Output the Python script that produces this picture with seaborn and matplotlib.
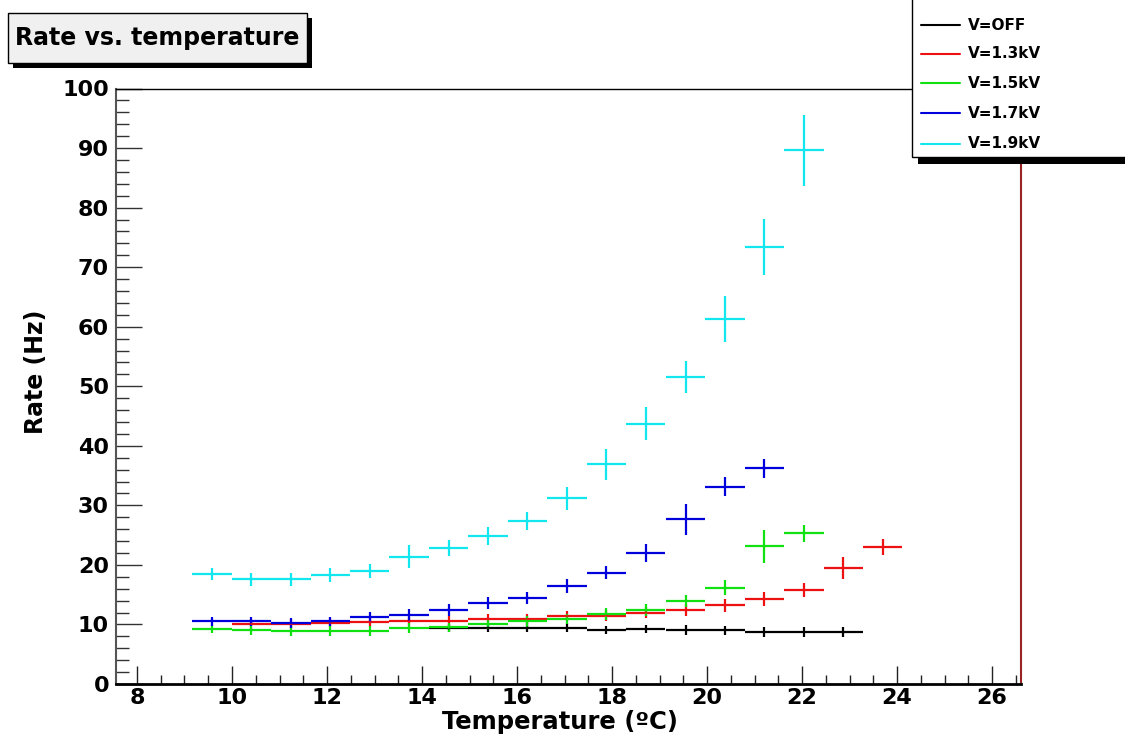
import numpy as np
import pandas as pd
import matplotlib
matplotlib.use("Agg")
import matplotlib.pyplot as plt
from matplotlib.patches import Rectangle
from matplotlib.lines import Line2D
from matplotlib.ticker import MultipleLocator
import seaborn as sns

# ---------------- data ----------------
temperature_bins = [9.58, 10.41, 11.24, 12.07, 12.90, 13.73, 14.56, 15.39, 16.22,
                    17.05, 17.88, 18.71, 19.55, 20.38, 21.21, 22.04, 22.87, 23.70]
bin_half_width = 0.415

series_labels = ["V=OFF", "V=1.3kV", "V=1.5kV", "V=1.7kV", "V=1.9kV"]

temp_off = temperature_bins[6:17]
rate_off = [9.35, 9.46, 9.46, 9.46, 9.07, 9.24, 9.07, 9.0, 8.7, 8.7, 8.7]
err_off = [0.7, 0.7, 0.7, 0.7, 0.75, 0.75, 0.8, 0.8, 0.8, 0.8, 0.8]

temp_13 = temperature_bins[1:18]
rate_13 = [10.1, 10.1, 10.3, 10.4, 10.5, 10.6, 10.9, 10.9, 11.4, 11.5, 12.0, 12.4,
           13.2, 14.3, 15.8, 19.5, 23.0]
err_13 = [0.8, 0.8, 0.8, 0.8, 0.8, 0.8, 0.9, 0.9, 0.9, 0.9, 1.0, 1.0, 1.1, 1.2,
          1.2, 1.8, 1.3]

temp_15 = temperature_bins[0:16]
rate_15 = [9.2, 9.0, 8.9, 8.9, 8.9, 9.4, 9.5, 10.1, 10.5, 10.9, 11.8, 12.4, 14.0,
           16.2, 23.1, 25.3]
err_15 = [0.7, 0.8, 0.8, 0.8, 0.8, 0.8, 0.8, 0.8, 0.9, 0.9, 1.0, 1.0, 1.0, 1.2,
          2.8, 1.4]

temp_17 = temperature_bins[0:15]
rate_17 = [10.5, 10.5, 10.25, 10.5, 11.2, 11.6, 12.5, 13.6, 14.5, 16.5, 18.7, 22.0,
           27.7, 33.1, 36.2]
err_17 = [0.8, 0.8, 0.8, 0.8, 0.9, 1.0, 1.0, 1.0, 1.0, 1.2, 1.1, 1.5, 2.6, 1.6, 1.6]

temp_19 = temperature_bins[0:16]
rate_19 = [18.4, 17.6, 17.6, 18.3, 19.0, 21.4, 22.8, 24.9, 27.3, 31.2, 36.9, 43.7,
           51.6, 61.3, 73.4, 89.6]
err_19 = [1.0, 1.1, 1.1, 1.1, 1.2, 2.0, 1.3, 1.5, 1.5, 1.9, 2.6, 2.8, 2.7, 3.9,
          4.7, 6.0]

x_ticks = [8, 10, 12, 14, 16, 18, 20, 22, 24, 26]
y_ticks = [0, 10, 20, 30, 40, 50, 60, 70, 80, 90, 100]

title_text = "Rate vs. temperature"
x_label = "Temperature (ºC)"
y_label = "Rate (Hz)"

# ---------------- build table ----------------
frames = []
for lab, t, r, e in zip(series_labels,
                        [temp_off, temp_13, temp_15, temp_17, temp_19],
                        [rate_off, rate_13, rate_15, rate_17, rate_19],
                        [err_off, err_13, err_15, err_17, err_19]):
    frames.append(pd.DataFrame({"temperature": t, "rate": r, "err": e, "series": lab}))
df = pd.concat(frames, ignore_index=True)

colors = {"V=OFF": "#000000", "V=1.3kV": "#ee1111", "V=1.5kV": "#11e011",
          "V=1.7kV": "#0000dd", "V=1.9kV": "#12e6ee"}

# ---------------- style ----------------
sns.set_theme(style="white")
plt.rcParams["font.family"] = ["DejaVu Sans"]
plt.rcParams["font.weight"] = "bold"
plt.rcParams["text.color"] = "black"
plt.rcParams["axes.labelcolor"] = "black"
plt.rcParams["xtick.labelcolor"] = "black"
plt.rcParams["ytick.labelcolor"] = "black"

W, H = 1125, 740
fig = plt.figure(figsize=(W / 100, H / 100), dpi=100)
fig.patch.set_facecolor("white")

def fx(x):
    return x / W

def fy(y):
    return 1 - y / H

ax_left, ax_right, ax_top, ax_bottom = 116, 1021, 88.5, 684
ax = fig.add_axes([fx(ax_left), fy(ax_bottom), (ax_right - ax_left) / W,
                   (ax_bottom - ax_top) / H])
ax.set_facecolor("white")

for lab in series_labels:
    sub = df[df["series"] == lab]
    ax.errorbar(sub["temperature"], sub["rate"], yerr=sub["err"],
                xerr=bin_half_width, fmt="none", ecolor=colors[lab],
                elinewidth=1.6, capsize=0, zorder=3)

sns.scatterplot(data=df, x="temperature", y="rate", hue="series",
                palette=colors, s=3, linewidth=0, legend=False, ax=ax, zorder=4)

ax.set_xlim(7.558, 26.61)
ax.set_ylim(0, 100)
ax.set_xticks(x_ticks)
ax.set_yticks(y_ticks)
ax.xaxis.set_minor_locator(MultipleLocator(0.5))
ax.yaxis.set_minor_locator(MultipleLocator(2))

ax.tick_params(axis="x", which="major", direction="in", length=13, width=1.0,
               color="#222222", labelsize=16, pad=3, labelcolor="black",
               bottom=True, top=False)
ax.tick_params(axis="x", which="minor", direction="in", length=6.5, width=1.0,
               color="#222222", bottom=True, top=False)
ax.tick_params(axis="y", which="major", direction="in", length=19, width=1.0,
               color="#333333", labelsize=16, pad=5, labelcolor="black",
               left=True, right=False)
ax.tick_params(axis="y", which="minor", direction="in", length=9.5, width=1.0,
               color="#333333", left=True, right=False)
for lbl in ax.get_xticklabels() + ax.get_yticklabels():
    lbl.set_fontweight("bold")
    lbl.set_color("black")

ax.set_xlabel(x_label, fontsize=17.5, fontweight="bold", color="black")
ax.set_ylabel(y_label, fontsize=17, fontweight="bold", color="black")
ax.xaxis.set_label_coords((560 - ax_left) / (ax_right - ax_left), -0.0445)
ax.yaxis.set_label_coords((48 - ax_left) / (ax_right - ax_left), 0.524)

ax.spines["left"].set_color("#555555")
ax.spines["left"].set_linewidth(1.5)
ax.spines["bottom"].set_color("black")
ax.spines["bottom"].set_linewidth(2.0)
ax.spines["top"].set_color("black")
ax.spines["top"].set_linewidth(1.0)
ax.spines["right"].set_color("#992222")
ax.spines["right"].set_linewidth(1.5)

# ---------------- title box with shadow ----------------
def add_rect(x0, y0, x1, y1, **kw):
    r = Rectangle((fx(x0), fy(y1)), (x1 - x0) / W, (y1 - y0) / H,
                  transform=fig.transFigure, figure=fig, **kw)
    fig.add_artist(r)
    return r

add_rect(13, 18, 312, 68, facecolor="black", edgecolor="none", zorder=5)
add_rect(8, 13, 307, 63, facecolor="#f0f0f0", edgecolor="black", linewidth=1.0, zorder=6)
fig.text(fx(157.5), fy(38), title_text, ha="center", va="center", fontsize=17,
         fontweight="bold", color="black", zorder=7)

# ---------------- legend box with shadow ----------------
add_rect(918, -5, 1135, 164, facecolor="black", edgecolor="none", zorder=5)
add_rect(912, -5, 1135, 157, facecolor="white", edgecolor="black", linewidth=1.0, zorder=6)
entry_y = [25, 54, 83, 113, 144]
for lab, yy in zip(series_labels, entry_y):
    fig.add_artist(Line2D([fx(921), fx(960)], [fy(yy), fy(yy)], transform=fig.transFigure,
                          color=colors[lab], linewidth=1.5, zorder=7))
    fig.text(fx(968), fy(yy), lab, ha="left", va="center", fontsize=11,
             fontweight="bold", color="black", zorder=7)

fig.savefig("out.png", dpi=100)
